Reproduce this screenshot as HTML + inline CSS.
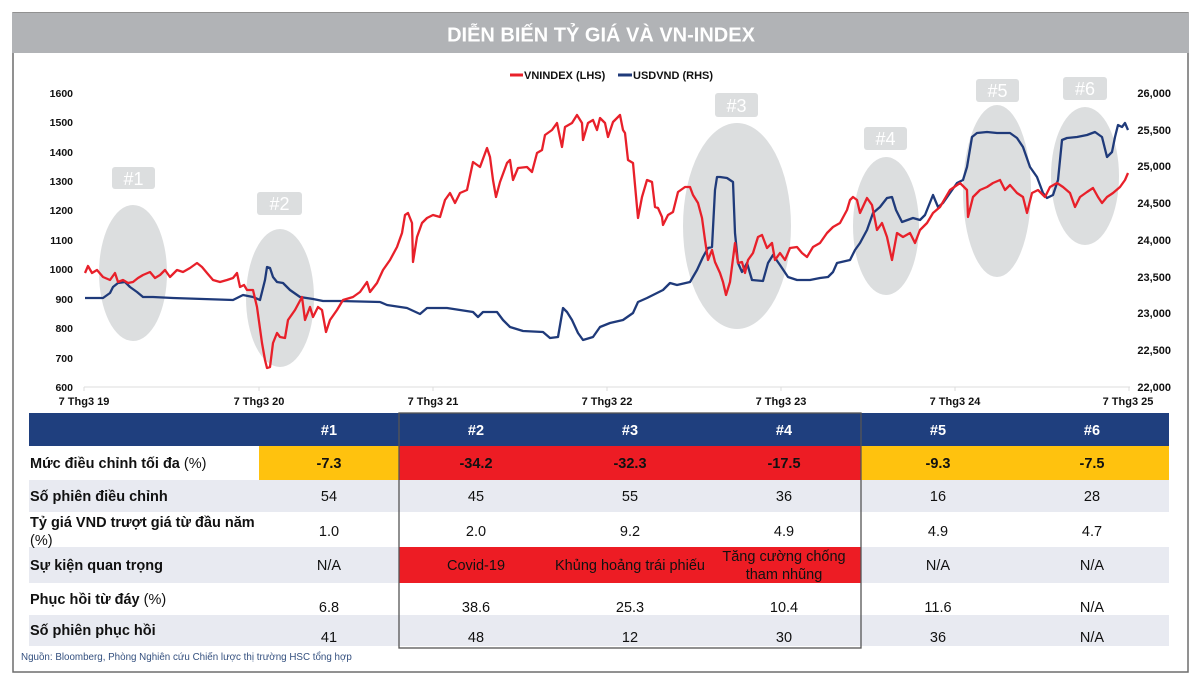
<!DOCTYPE html>
<html><head><meta charset="utf-8"><style>
html,body{margin:0;padding:0;background:#fff;}
svg{display:block;}
text{font-family:"Liberation Sans",Arial,sans-serif;}
</style></head><body>
<svg width="1200" height="683" viewBox="0 0 1200 683" xmlns="http://www.w3.org/2000/svg">
<rect x="0" y="0" width="1200" height="683" fill="#fff"/>
<!-- frame -->
<rect x="13" y="13" width="1175" height="659" fill="none" stroke="#6d6d6d" stroke-width="1.5"/>
<rect x="12" y="13" width="1177" height="40" fill="#b1b3b6"/>
<text x="601" y="41.5" text-anchor="middle" font-size="20" font-weight="bold" fill="#fff">DIỄN BIẾN TỶ GIÁ VÀ VN-INDEX</text>

<!-- legend -->
<line x1="510" y1="75" x2="523" y2="75" stroke="#e8202a" stroke-width="3"/>
<text x="524" y="79" font-size="11" font-weight="bold" fill="#111">VNINDEX (LHS)</text>
<line x1="618" y1="75" x2="632" y2="75" stroke="#1f3a7a" stroke-width="3"/>
<text x="633" y="79" font-size="11" font-weight="bold" fill="#111">USDVND (RHS)</text>

<!-- ellipses -->
<g fill="#dcdedf">
<ellipse cx="133" cy="273" rx="34" ry="68"/>
<ellipse cx="280" cy="298" rx="34" ry="69"/>
<ellipse cx="737" cy="226" rx="54" ry="103"/>
<ellipse cx="886" cy="226" rx="33" ry="69"/>
<ellipse cx="997" cy="191" rx="34" ry="86"/>
<ellipse cx="1085" cy="176" rx="34" ry="69"/>
<rect x="112" y="167" width="43" height="22" rx="3"/>
<rect x="257" y="192" width="45" height="23" rx="3"/>
<rect x="715" y="93" width="43" height="24" rx="3"/>
<rect x="864" y="127" width="43" height="23" rx="3"/>
<rect x="976" y="79" width="43" height="23" rx="3"/>
<rect x="1063" y="77" width="44" height="23" rx="3"/>
</g>
<g fill="#fff" font-size="18" text-anchor="middle">
<text x="133.5" y="185">#1</text>
<text x="279.5" y="210">#2</text>
<text x="736.5" y="112">#3</text>
<text x="885.5" y="145">#4</text>
<text x="997.5" y="97">#5</text>
<text x="1085" y="95">#6</text>
</g>

<!-- axes -->
<line x1="84" y1="387" x2="1130" y2="387" stroke="#dcdcdc" stroke-width="1"/>
<g stroke="#dcdcdc" stroke-width="1">
<line x1="84" y1="387" x2="84" y2="391"/><line x1="259" y1="387" x2="259" y2="391"/><line x1="433" y1="387" x2="433" y2="391"/><line x1="607" y1="387" x2="607" y2="391"/><line x1="781" y1="387" x2="781" y2="391"/><line x1="955" y1="387" x2="955" y2="391"/><line x1="1129" y1="387" x2="1129" y2="391"/>
</g>
<g font-size="10.5" font-weight="bold" fill="#111" text-anchor="end">
<text x="73" y="97">1600</text>
<text x="73" y="126">1500</text>
<text x="73" y="156">1400</text>
<text x="73" y="185">1300</text>
<text x="73" y="214">1200</text>
<text x="73" y="244">1100</text>
<text x="73" y="273">1000</text>
<text x="73" y="303">900</text>
<text x="73" y="332">800</text>
<text x="73" y="362">700</text>
<text x="73" y="391">600</text>
</g>
<g font-size="11" font-weight="bold" fill="#111" text-anchor="end">
<text x="1171" y="97">26,000</text>
<text x="1171" y="134">25,500</text>
<text x="1171" y="170">25,000</text>
<text x="1171" y="207">24,500</text>
<text x="1171" y="244">24,000</text>
<text x="1171" y="281">23,500</text>
<text x="1171" y="317">23,000</text>
<text x="1171" y="354">22,500</text>
<text x="1171" y="391">22,000</text>
</g>
<g font-size="11" font-weight="bold" fill="#111" text-anchor="middle">
<text x="84" y="405">7 Thg3 19</text>
<text x="259" y="405">7 Thg3 20</text>
<text x="433" y="405">7 Thg3 21</text>
<text x="607" y="405">7 Thg3 22</text>
<text x="781" y="405">7 Thg3 23</text>
<text x="955" y="405">7 Thg3 24</text>
<text x="1128" y="405">7 Thg3 25</text>
</g>

<!-- series -->
<polyline fill="none" stroke="#1f3a7a" stroke-width="2.3" stroke-linejoin="round" points="85,298 103,298 110,293 113,287 118,283 125,282 130,287 137,292 143,297 153,297 173,298 233,300 243,295 253,297 260,300 265,280 267,267 270,268 273,277 277,282 283,283 290,290 300,297 313,299 323,301 340,301 380,302 387,305 407,308 420,314 427,308 447,308 473,312 478,317 483,312 497,312 503,320 510,327 523,331 543,332 550,338 558,337 563,308 567,312 572,320 578,333 583,340 593,337 600,327 610,323 623,320 633,313 638,302 647,298 657,293 663,290 670,283 677,285 690,282 697,270 703,257 708,248 712,247 715,190 717,177 720,177 727,178 733,182 735,233 738,263 742,272 747,263 752,280 763,281 768,263 773,255 780,265 788,277 797,280 810,280 820,278 828,277 833,272 837,263 850,260 855,250 860,243 867,230 873,213 880,207 887,198 892,197 896,210 902,222 913,218 920,220 925,215 933,195 938,207 943,203 950,193 957,183 963,180 967,167 972,137 977,133 987,132 997,133 1010,133 1017,138 1023,147 1030,167 1037,177 1043,193 1047,198 1053,195 1058,180 1062,140 1067,138 1077,137 1087,135 1095,132 1102,137 1107,157 1112,152 1115,137 1118,125 1122,127 1125,123 1128,130"/>
<polyline fill="none" stroke="#e8202a" stroke-width="2.3" stroke-linejoin="round" points="85,273 88,266 92,273 97,270 103,277 110,280 115,273 118,282 123,280 128,283 133,282 138,278 143,275 150,272 155,278 160,275 165,270 170,277 177,270 183,272 190,268 197,263 202,267 207,273 213,280 220,282 227,280 233,278 237,273 240,287 244,285 247,290 253,290 257,307 262,343 265,360 267,368 270,367 273,343 277,333 280,337 285,338 288,320 295,310 302,297 305,320 310,307 313,317 318,307 322,310 326,332 330,320 337,310 343,300 353,297 360,292 367,282 370,292 377,283 383,270 390,260 397,247 402,233 405,215 408,213 412,223 413,262 417,237 422,223 427,218 433,215 440,217 445,200 450,193 455,203 460,193 467,190 473,162 480,167 487,148 490,157 493,180 496,197 500,182 507,163 510,160 513,180 518,168 527,167 532,172 537,153 542,150 545,135 552,130 557,123 562,147 565,127 572,123 577,115 582,123 583,140 588,123 593,120 597,130 600,118 605,123 608,137 613,122 620,115 623,130 625,133 628,160 633,163 638,218 642,197 647,180 652,182 655,207 658,208 662,217 663,225 668,215 673,212 678,192 685,187 690,187 693,195 698,203 702,218 705,240 708,260 712,250 715,262 720,273 723,282 726,295 730,282 735,243 738,263 742,262 745,273 748,260 753,253 758,237 762,235 767,248 772,243 775,260 780,253 785,260 790,248 797,247 802,253 807,257 813,247 820,243 827,233 833,227 840,223 847,210 850,200 853,197 857,200 860,213 867,198 872,205 877,230 882,223 887,237 892,260 897,233 903,237 910,233 915,243 920,230 927,223 933,213 940,207 950,190 960,183 967,190 968,217 973,197 980,190 987,187 993,183 1000,180 1005,190 1010,185 1017,193 1023,197 1027,213 1032,193 1038,190 1045,197 1050,187 1057,183 1063,187 1070,193 1075,207 1080,197 1087,192 1093,188 1098,197 1102,203 1107,197 1113,193 1120,187 1125,180 1128,173"/>

<!-- table backgrounds -->
<rect x="29" y="413" width="1140" height="33" fill="#1f3f7e"/>
<rect x="259" y="446" width="140" height="34" fill="#ffc20e"/>
<rect x="399" y="446" width="462" height="34" fill="#ed1c24"/>
<rect x="861" y="446" width="308" height="34" fill="#ffc20e"/>
<rect x="29" y="480" width="1140" height="32" fill="#e8eaf1"/>
<rect x="29" y="547" width="1140" height="36" fill="#e8eaf1"/>
<rect x="399" y="547" width="462" height="36" fill="#ed1c24"/>
<rect x="29" y="615" width="1140" height="31" fill="#e8eaf1"/>
<rect x="399" y="413" width="462" height="235" fill="none" stroke="#555" stroke-width="1.3"/>

<!-- header -->
<g font-size="14.5" font-weight="bold" fill="#fff" text-anchor="middle">
<text x="329" y="435">#1</text>
<text x="476" y="435">#2</text>
<text x="630" y="435">#3</text>
<text x="784" y="435">#4</text>
<text x="938" y="435">#5</text>
<text x="1092" y="435">#6</text>
</g>
<!-- labels -->
<g font-size="14.5" fill="#111">
<text x="30" y="468"><tspan font-weight="bold">Mức điều chỉnh tối đa</tspan> (%)</text>
<text x="30" y="501" font-weight="bold">Số phiên điều chỉnh</text>
<text x="30" y="527" font-weight="bold">Tỷ giá VND trượt giá từ đầu năm</text>
<text x="30" y="545">(%)</text>
<text x="30" y="570" font-weight="bold">Sự kiện quan trọng</text>
<text x="30" y="604"><tspan font-weight="bold">Phục hồi từ đáy</tspan> (%)</text>
<text x="30" y="635" font-weight="bold">Số phiên phục hồi</text>
</g>
<!-- values -->
<g font-size="14.5" fill="#111" text-anchor="middle">
<g font-weight="bold">
<text x="329" y="468">-7.3</text><text x="476" y="468">-34.2</text><text x="630" y="468">-32.3</text><text x="784" y="468">-17.5</text><text x="938" y="468">-9.3</text><text x="1092" y="468">-7.5</text>
</g>
<text x="329" y="501">54</text><text x="476" y="501">45</text><text x="630" y="501">55</text><text x="784" y="501">36</text><text x="938" y="501">16</text><text x="1092" y="501">28</text>
<text x="329" y="536">1.0</text><text x="476" y="536">2.0</text><text x="630" y="536">9.2</text><text x="784" y="536">4.9</text><text x="938" y="536">4.9</text><text x="1092" y="536">4.7</text>
<text x="329" y="570">N/A</text><text x="476" y="570">Covid-19</text><text x="630" y="570">Khủng hoảng trái phiếu</text>
<text x="784" y="561">Tăng cường chống</text><text x="784" y="579">tham nhũng</text>
<text x="938" y="570">N/A</text><text x="1092" y="570">N/A</text>
<text x="329" y="612">6.8</text><text x="476" y="612">38.6</text><text x="630" y="612">25.3</text><text x="784" y="612">10.4</text><text x="938" y="612">11.6</text><text x="1092" y="612">N/A</text>
<text x="329" y="642">41</text><text x="476" y="642">48</text><text x="630" y="642">12</text><text x="784" y="642">30</text><text x="938" y="642">36</text><text x="1092" y="642">N/A</text>
</g>
<text x="21" y="660" font-size="9.8" fill="#34507f">Nguồn: Bloomberg, Phòng Nghiên cứu Chiến lược thị trường HSC tổng hợp</text>
</svg>
</body></html>
